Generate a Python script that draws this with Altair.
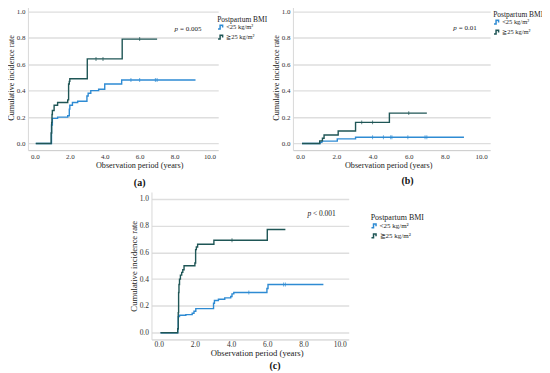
import altair as alt
import pandas as pd

BLUE = "#2e8bd3"
DARK = "#1f5656"
FONT = "Liberation Serif"
GROUPS = ["<25 kg/m²", "≧25 kg/m²"]
X_TICKS = [0, 2, 4, 6, 8, 10]
Y_TICKS = [0, 0.2, 0.4, 0.6, 0.8, 1.0]
X_TITLE = "Observation period (years)"
Y_TITLE = "Cumulative incidence rate"

# ---- panel (a)
a_lo_t = [0.05, 0.95, 1.0, 1.3, 1.88, 1.97, 2.0, 2.15, 2.45, 2.98, 3.05, 3.2, 3.65, 4.0, 4.97, 9.2]
a_lo_s = [0, 0.14, 0.19, 0.20, 0.21, 0.26, 0.29, 0.31, 0.32, 0.36, 0.38, 0.40, 0.41, 0.45, 0.48, 0.48]
a_hi_t = [0.05, 0.93, 0.96, 0.98, 1.0, 1.1, 1.3, 1.88, 1.93, 1.97, 2.0, 3.0, 5.0, 7.0]
a_hi_s = [0, 0.08, 0.16, 0.22, 0.25, 0.29, 0.31, 0.33, 0.45, 0.47, 0.49, 0.64, 0.79, 0.79]
a_cens_lo = [5.5, 6.0, 6.9, 7.0]
a_cens_hi = [3.5, 3.9, 6.0]

# ---- panel (b)
b_lo_t = [0.1, 1.1, 1.2, 2.05, 3.06, 9.05]
b_lo_s = [0, 0.01, 0.018, 0.035, 0.047, 0.047]
b_hi_t = [0.1, 1.08, 1.23, 1.32, 2.1, 3.06, 4.93, 7.0]
b_hi_s = [0, 0.02, 0.04, 0.065, 0.095, 0.16, 0.23, 0.23]
b_cens_lo = [4.0, 4.6, 5.0, 5.07, 5.95, 6.9, 7.0]
b_cens_hi = [3.4, 4.0, 6.0]

# ---- panel (c)
c_lo_t = [0.1, 1.05, 1.08, 1.15, 1.5, 1.85, 1.95, 2.05, 3.03, 3.08, 3.3, 3.65, 3.98, 4.05, 4.15, 5.98, 6.04, 9.1]
c_lo_s = [0, 0.03, 0.12, 0.13, 0.135, 0.145, 0.16, 0.18, 0.22, 0.24, 0.25, 0.26, 0.27, 0.29, 0.30, 0.33, 0.36, 0.36]
c_hi_t = [0.1, 1.05, 1.08, 1.1, 1.12, 1.15, 1.2, 1.27, 1.33, 1.4, 2.0, 2.04, 2.08, 2.15, 3.05, 6.0, 7.0]
c_hi_s = [0, 0.03, 0.15, 0.30, 0.36, 0.40, 0.43, 0.45, 0.47, 0.50, 0.52, 0.62, 0.64, 0.66, 0.69, 0.77, 0.77]
c_cens_lo = [4.98, 6.9, 7.0]
c_cens_hi = [4.05]

P_SYM = ["p", "p", "p"]
P_REST = ["= 0.005", "= 0.01", "< 0.001"]
P_X = [8.0, 8.46, 8.22]
P_Y = [0.865, 0.876, 0.888]
LETTERS = ["(a)", "(b)", "(c)"]
LETTER_X = [6.0, 5.93, 6.43]
LETTER_Y = [-0.30, -0.287, -0.245]
XT_X = [6.0, 4.89, 5.44]
XT_Y = [-0.17, -0.168, -0.152]

STEP = "M-1,0.6L-0.35,0.6L-0.35,-0.6L0.45,-0.6L0.45,0.15"


def step_value(ts, ss, t):
    v = ss[0]
    for ti, si in zip(ts, ss):
        if ti <= t:
            v = si
    return v


def panel(lo_t, lo_s, hi_t, hi_s, cens_lo, cens_hi, idx, width, height,
          fs, legx, legy, xlabpad):
    rows = [{"t": t, "s": s, "group": GROUPS[0]} for t, s in zip(lo_t, lo_s)]
    rows += [{"t": t, "s": s, "group": GROUPS[1]} for t, s in zip(hi_t, hi_s)]
    lines = pd.DataFrame(rows)
    cl = pd.DataFrame({"t": cens_lo, "s": [step_value(lo_t, lo_s, t) for t in cens_lo]})
    ch = pd.DataFrame({"t": cens_hi, "s": [step_value(hi_t, hi_s, t) for t in cens_hi]})
    ptxt = pd.DataFrame({"t": [P_X[idx]], "s": [P_Y[idx]], "a": [P_SYM[idx]], "b": [P_REST[idx]]})
    ltxt = pd.DataFrame({"t": [LETTER_X[idx]], "s": [LETTER_Y[idx]], "a": [LETTERS[idx]]})
    xtxt = pd.DataFrame({"t": [XT_X[idx]], "s": [XT_Y[idx]], "a": [X_TITLE]})

    x = alt.X("t:Q", scale=alt.Scale(domain=[-0.4, 10.5], nice=False, zero=False),
              axis=alt.Axis(values=X_TICKS, format=".1f", title=None,
                            grid=False, ticks=False, labelFont=FONT,
                            labelFontSize=fs, labelColor="#333", domainColor="#c8c8c8",
                            domainWidth=1, labelPadding=xlabpad))
    y = alt.Y("s:Q", scale=alt.Scale(domain=[-0.05, 1.05], nice=False, zero=False),
              axis=alt.Axis(values=Y_TICKS, format=".1f", title=Y_TITLE,
                            grid=True, gridColor="#dedede", gridWidth=1.4, ticks=False,
                            labelFont=FONT, titleFont=FONT, labelFontSize=fs,
                            titleFontSize=fs + 1.2, titleFontWeight="normal",
                            labelColor="#333", titleColor="#222", domainColor="#d8d8d8",
                            domainWidth=1, labelPadding=3, titlePadding=0.5))
    color = alt.Color("group:N", scale=alt.Scale(domain=GROUPS, range=[BLUE, DARK]),
                      legend=alt.Legend(title="Postpartum BMI", orient="none", legendX=legx,
                                        legendY=legy, symbolType=STEP, symbolSize=40,
                                        symbolStrokeWidth=1.5, symbolFillColor="transparent",
                                        titleFont=FONT, titleFontSize=fs + 0.5,
                                        titleFontWeight="normal", titleColor="#222",
                                        labelFont=FONT, labelFontSize=fs - 0.5,
                                        labelColor="#222", rowPadding=0, titlePadding=0,
                                        labelOffset=1))
    line = alt.Chart(lines).mark_line(interpolate="step-after", strokeWidth=1.4).encode(
        x=x, y=y, color=color, order="t:Q")
    tl = alt.Chart(cl).mark_tick(orient="vertical", size=4, thickness=1, color=BLUE).encode(x=x, y=y)
    th = alt.Chart(ch).mark_tick(orient="vertical", size=4, thickness=1, color=DARK).encode(x=x, y=y)
    t1 = alt.Chart(ptxt).mark_text(align="left", baseline="middle", font=FONT, fontSize=fs,
                                   fontStyle="italic", color="#222").encode(x=x, y=y, text="a:N")
    t2 = alt.Chart(ptxt).mark_text(align="left", baseline="middle", font=FONT, fontSize=fs,
                                   dx=5.5, color="#222").encode(x=x, y=y, text="b:N")
    t3 = alt.Chart(ltxt).mark_text(align="center", baseline="middle", font=FONT, fontSize=10,
                                   fontWeight="bold", color="#111").encode(x=x, y=y, text="a:N")
    t4 = alt.Chart(xtxt).mark_text(align="center", baseline="middle", font=FONT,
                                   fontSize=fs + 1.2, color="#222").encode(x=x, y=y, text="a:N")
    return alt.layer(line, tl, th, t1, t2, t3, t4).properties(width=width, height=height)


pa = panel(a_lo_t, a_lo_s, a_hi_t, a_hi_s, a_cens_lo, a_cens_hi, 0, 191, 146,
           7, 190, 11, 2)
pb = panel(b_lo_t, b_lo_s, b_hi_t, b_hi_s, b_cens_lo, b_cens_hi, 1, 198, 146,
           7, 201, 6, 2)
pc = panel(c_lo_t, c_lo_s, c_hi_t, c_hi_s, c_cens_lo, c_cens_hi, 2, 198, 148,
           7.5, 220, 22, 1)

spacer = alt.Chart(pd.DataFrame({"v": [0]})).mark_point(opacity=0).encode(
    x=alt.X("v:Q", axis=None), y=alt.Y("v:Q", axis=None)).properties(width=124, height=10)

row1 = alt.hconcat(pa, pb, spacing=75, bounds="flush").resolve_scale(
    color="independent", x="independent", y="independent")
row2 = alt.hconcat(spacer, pc, spacing=0, bounds="flush").resolve_scale(
    color="independent", x="independent", y="independent")

chart = alt.vconcat(row1, row2, spacing=3, bounds="full").resolve_scale(
    color="independent", x="independent", y="independent"
).properties(
    padding={"left": -2, "top": -4, "right": -2, "bottom": 0}
).configure(background="white").configure_view(stroke=None)

chart.save("out.html", embed_options={"renderer": "svg", "actions": False})
